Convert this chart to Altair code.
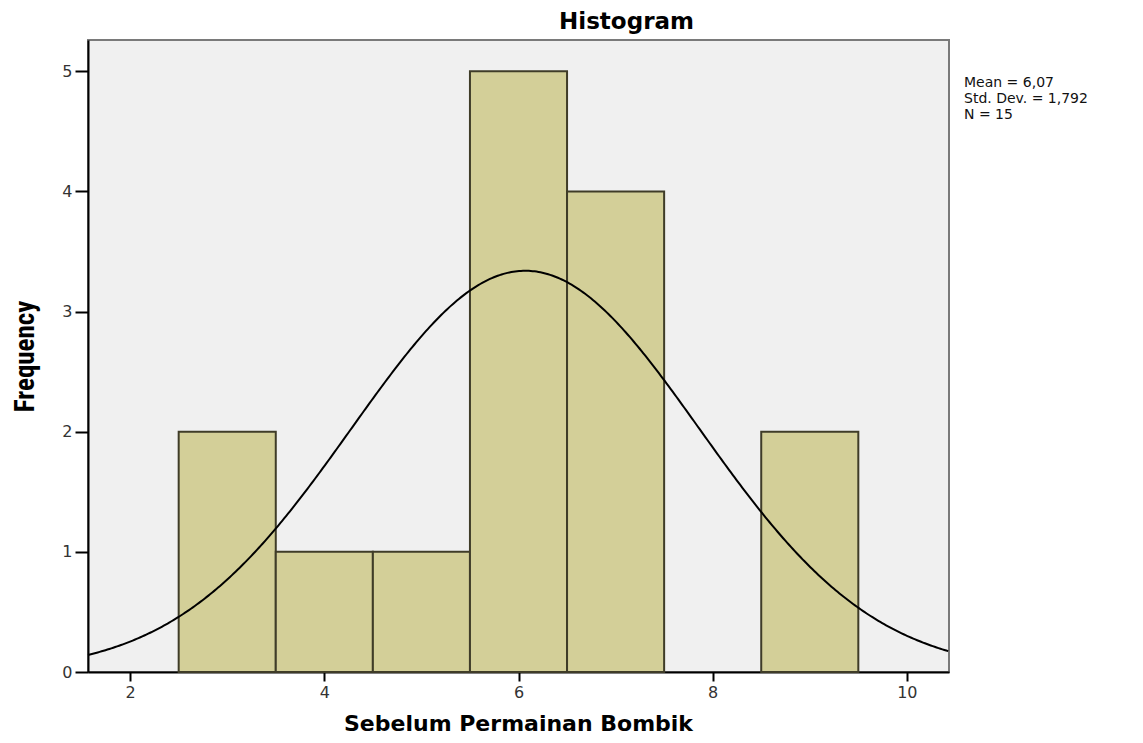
import altair as alt
import pandas as pd

# Data
values = [3, 4, 5, 6, 7, 9]          # bin centres (bin width 1)
freq = [2, 1, 1, 5, 4, 2]            # frequencies
bin_width = 1.0
MEAN = 6.07
SD = 1.792
N = 15
x_ticks = [2, 4, 6, 8, 10]
y_ticks = [0, 1, 2, 3, 4, 5]
stats_lines = ["Mean = 6,07", "Std. Dev. = 1,792", "N = 15"]

X_DOMAIN = [1.566, 10.434]
Y_DOMAIN = [0, 5.26]

df = pd.DataFrame({"value": values, "freq": freq})

xscale = alt.Scale(domain=X_DOMAIN, nice=False, zero=False)
yscale = alt.Scale(domain=Y_DOMAIN, nice=False)

x_axis = alt.Axis(
    values=x_ticks, format="d", title="Sebelum Permainan Bombik", grid=False,
    domainColor="black", domainWidth=2, tickColor="black", tickWidth=2, tickSize=9,
    labelFont="DejaVu Sans", labelFontSize=16, labelColor="#333333", labelPadding=3,
    titleFont="DejaVu Sans", titleFontSize=22, titleFontWeight="bold", titleColor="black",
    titleX=430, titleY=51, titleBaseline="middle", titleAlign="center",
)
y_axis = alt.Axis(
    values=y_ticks, format="d", title="Frequency", grid=False,
    domainColor="black", domainWidth=2, tickColor="black", tickWidth=2, tickSize=13,
    labelFont="DejaVu Sans", labelFontSize=16, labelColor="#333333", labelPadding=3,
    titleFont="Liberation Sans Narrow, Roboto Condensed, Liberation Sans", titleFontSize=27,
    titleFontWeight="bold", titleColor="black",
    titleX=-63, titleY=316, titleAngle=270, titleBaseline="middle", titleAlign="center",
)

bars = alt.Chart(df).transform_calculate(
    start=f"datum.value - {bin_width}/2",
    end=f"datum.value + {bin_width}/2",
).mark_rect(fill="#D3CF98", stroke="#3f3c28", strokeWidth=2).encode(
    x=alt.X("start:Q", scale=xscale, axis=x_axis),
    x2="end:Q",
    y=alt.Y("freq:Q", scale=yscale, axis=y_axis),
    y2=alt.datum(0),
)

curve = alt.Chart(alt.sequence(X_DOMAIN[0], X_DOMAIN[1] + 0.001, 0.02, as_="x")).transform_calculate(
    dens=f"{N}*{bin_width}*exp(-0.5*pow((datum.x-{MEAN})/{SD},2))/({SD}*sqrt(2*PI))"
).mark_line(color="black", strokeWidth=2).encode(
    x=alt.X("x:Q", scale=xscale),
    y=alt.Y("dens:Q", scale=yscale),
)

stats = alt.Chart(pd.DataFrame({"k": [0]})).mark_text(
    align="left", baseline="middle", font="DejaVu Sans", fontSize=14,
    lineHeight=16, color="#111111",
).encode(
    x=alt.value(876), y=alt.value(43), text=alt.value(stats_lines)
)

chart = alt.layer(bars, curve, stats).properties(
    width=861,
    height=632,
    title=alt.TitleParams(
        "Histogram", font="DejaVu Sans", fontSize=23, fontWeight="bold",
        color="black", anchor="middle", dx=108, offset=6,
    ),
    padding={"left": 80, "top": 32, "right": 186, "bottom": 63},
    autosize=alt.AutoSizeParams(type="none"),
    background="white",
).configure_view(
    fill="#F0F0F0", stroke="#7a7a7a", strokeWidth=2
)

chart.save("out.html", embed_options={"renderer": "svg", "actions": False})
